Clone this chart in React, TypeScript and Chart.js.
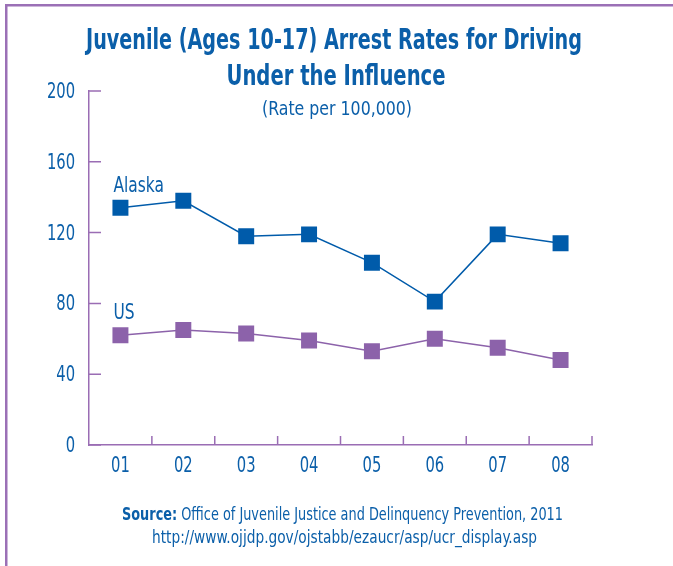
import React, { useEffect, useRef } from 'react';
import { Chart, registerables } from 'chart.js';

Chart.register(...registerables);

const years = ['01', '02', '03', '04', '05', '06', '07', '08'];
const alaska = [134, 138, 118, 119, 103, 81, 119, 114];
const us = [62, 65, 63, 59, 53, 60, 55, 48];
const yTicks = [0, 40, 80, 120, 160, 200];
const seriesNames = ['Alaska', 'US'];
const titleLines = ['Juvenile (Ages 10-17) Arrest Rates for Driving', 'Under the Influence'];
const subtitleText = '(Rate per 100,000)';
const sourceLabel = 'Source:';
const sourceText = ' Office of Juvenile Justice and Delinquency Prevention, 2011';
const sourceUrl = 'http://www.ojjdp.gov/ojstabb/ezaucr/asp/ucr_display.asp';

const FONT = "'Liberation Sans Narrow', 'DejaVu Sans Condensed', 'Arial Narrow', sans-serif";
const TEXT_BLUE = '#0b5fa9';
const ALASKA_BLUE = '#005baa';
const US_PURPLE = '#8c62aa';
const AXIS_PURPLE = '#9a6db4';
const FRAME_PURPLE = '#9b70b6';
const NARROW = 0.78;

function fitCentered(ctx: CanvasRenderingContext2D, text: string, cx: number, y: number, w: number, font: string) {
  ctx.font = font;
  const m = ctx.measureText(text).width;
  const s = w / m;
  ctx.save();
  ctx.translate(cx, y);
  ctx.scale(s, 1);
  ctx.textAlign = 'center';
  ctx.textBaseline = 'alphabetic';
  ctx.fillText(text, 0, 0);
  ctx.restore();
}

function drawNarrow(
  ctx: CanvasRenderingContext2D,
  text: string,
  x: number,
  y: number,
  align: CanvasTextAlign,
  font: string,
) {
  ctx.save();
  ctx.font = font;
  ctx.translate(x, y);
  ctx.scale(NARROW, 1);
  ctx.textAlign = align;
  ctx.textBaseline = 'middle';
  ctx.fillText(text, 0, 0);
  ctx.restore();
}

const decorPlugin = {
  id: 'decor',
  beforeDraw(chart: any) {
    const ctx: CanvasRenderingContext2D = chart.ctx;
    ctx.save();
    ctx.fillStyle = '#ffffff';
    ctx.fillRect(0, 0, chart.width, chart.height);
    ctx.fillStyle = FRAME_PURPLE;
    ctx.fillRect(5, 4, 2.5, chart.height);
    ctx.fillRect(5, 4, chart.width, 2.5);
    ctx.restore();
  },
  afterDraw(chart: any) {
    const ctx: CanvasRenderingContext2D = chart.ctx;
    const xs = chart.scales.x;
    const ys = chart.scales.y;
    ctx.save();
    // inward ticks
    ctx.strokeStyle = AXIS_PURPLE;
    ctx.lineWidth = 1.5;
    ctx.beginPath();
    ys.ticks.forEach((t: any) => {
      const py = ys.getPixelForValue(t.value);
      ctx.moveTo(xs.left, py);
      ctx.lineTo(xs.left + 12, py);
    });
    for (let i = 1; i <= years.length; i++) {
      const px = i < years.length
        ? (xs.getPixelForValue(i - 1) + xs.getPixelForValue(i)) / 2
        : xs.right;
      ctx.moveTo(px, ys.bottom);
      ctx.lineTo(px, ys.bottom - 9);
    }
    ctx.stroke();

    // tick labels (condensed)
    ctx.fillStyle = TEXT_BLUE;
    const tickFont = `21px ${FONT}`;
    ys.ticks.forEach((t: any) => {
      const py = ys.getPixelForValue(t.value);
      drawNarrow(ctx, String(t.value), xs.left - 14, py + 1.5, 'right', tickFont);
    });
    years.forEach((lab, i) => {
      const px = xs.getPixelForValue(i);
      drawNarrow(ctx, lab, px, ys.bottom + 22, 'center', tickFont);
    });

    // titles
    fitCentered(ctx, titleLines[0], 334, 49, 496, `bold 29px ${FONT}`);
    fitCentered(ctx, titleLines[1], 336, 85, 219, `bold 29px ${FONT}`);
    fitCentered(ctx, subtitleText, 337, 115, 150, `20px ${FONT}`);

    // series labels
    [0, 1].forEach((di) => {
      const meta = chart.getDatasetMeta(di);
      const pt = meta.data[0];
      drawNarrow(ctx, seriesNames[di], pt.x - 7, pt.y - 22, 'left', `22px ${FONT}`);
    });

    // source
    const boldFont = `bold 18px ${FONT}`;
    const regFont = `18px ${FONT}`;
    ctx.font = boldFont;
    const w1 = ctx.measureText(sourceLabel).width;
    ctx.font = regFont;
    const w2 = ctx.measureText(sourceText).width;
    const s = 441 / (w1 + w2);
    ctx.save();
    ctx.translate(122, 520);
    ctx.scale(s, 1);
    ctx.textAlign = 'left';
    ctx.textBaseline = 'alphabetic';
    ctx.font = boldFont;
    ctx.fillText(sourceLabel, 0, 0);
    ctx.font = regFont;
    ctx.fillText(sourceText, w1, 0);
    ctx.restore();
    fitCentered(ctx, sourceUrl, 344.5, 543, 385, regFont);
    ctx.restore();
  },
};

export default function App() {
  const ref = useRef<HTMLCanvasElement>(null);
  useEffect(() => {
    if (!ref.current) return;
    const chart = new Chart(ref.current, {
      type: 'line',
      data: {
        labels: years,
        datasets: [
          {
            label: seriesNames[0],
            data: alaska,
            borderColor: ALASKA_BLUE,
            backgroundColor: ALASKA_BLUE,
            borderWidth: 1.5,
            pointStyle: 'rect',
            pointRadius: 11.3,
            pointBorderWidth: 0,
            pointBackgroundColor: ALASKA_BLUE,
            tension: 0,
          },
          {
            label: seriesNames[1],
            data: us,
            borderColor: US_PURPLE,
            backgroundColor: US_PURPLE,
            borderWidth: 1.5,
            pointStyle: 'rect',
            pointRadius: 11.3,
            pointBorderWidth: 0,
            pointBackgroundColor: US_PURPLE,
            tension: 0,
          },
        ],
      },
      options: {
        responsive: false,
        animation: false,
        layout: { padding: { left: 0, right: 81, top: 91, bottom: 0 } },
        plugins: {
          legend: { display: false },
          title: { display: false },
          tooltip: { enabled: false },
        },
        scales: {
          x: {
            type: 'category',
            offset: true,
            grid: { display: false, drawTicks: false },
            border: { display: true, color: AXIS_PURPLE, width: 1.5 },
            ticks: { display: false },
            afterFit(scale: any) {
              scale.height = 121;
            },
          },
          y: {
            min: 0,
            max: 200,
            grid: { display: false, drawTicks: false },
            border: { display: true, color: AXIS_PURPLE, width: 1.5 },
            afterBuildTicks(scale: any) {
              scale.ticks = yTicks.map((v) => ({ value: v }));
            },
            ticks: { display: false },
            afterFit(scale: any) {
              scale.width = 89;
            },
          },
        },
      },
      plugins: [decorPlugin],
    });
    return () => chart.destroy();
  }, []);
  return (
    <div style={{ position: 'absolute', left: 0, top: 0, width: 673, height: 566 }}>
      <canvas ref={ref} width={673} height={566} style={{ width: 673, height: 566 }} />
    </div>
  );
}
